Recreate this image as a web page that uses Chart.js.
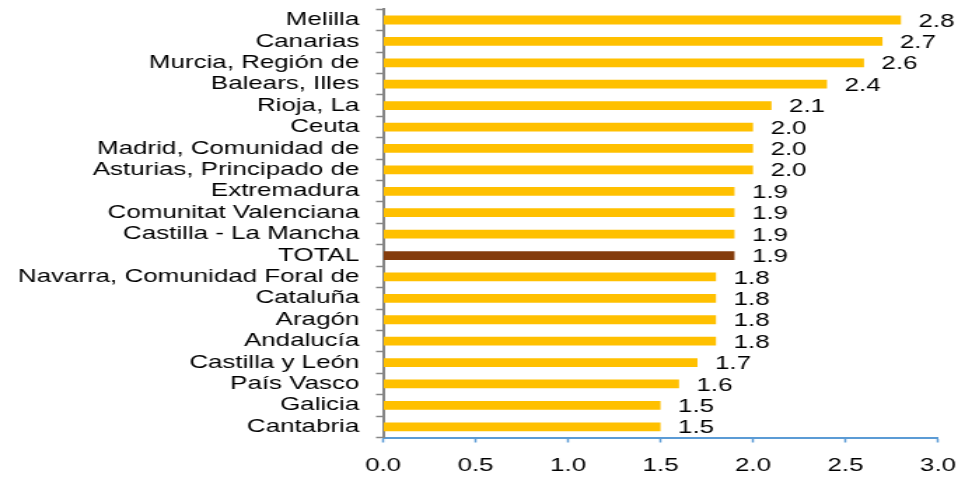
<!DOCTYPE html>
<html>
<head>
<meta charset="utf-8">
<script src="https://cdn.jsdelivr.net/npm/chart.js@4"></script>
<style>
  html, body { margin: 0; padding: 0; background: #ffffff; overflow: hidden; }
  #frame { width: 958px; height: 480px; overflow: hidden; }
  /* the chart is laid out narrow and widened, giving the broad lettering */
  #wrap { position: relative; width: 684px; height: 480px; transform: scaleX(1.4006); transform-origin: 0 0; }
</style>
</head>
<body>
<div id="frame"><div id="wrap"><canvas id="chart"></canvas></div></div>
<script>
// Regions, ordered from highest to lowest, with the national total among them
const regions = [
  'Melilla', 'Canarias', 'Murcia, Región de', 'Balears, Illes', 'Rioja, La',
  'Ceuta', 'Madrid, Comunidad de', 'Asturias, Principado de', 'Extremadura',
  'Comunitat Valenciana', 'Castilla - La Mancha', 'TOTAL',
  'Navarra, Comunidad Foral de', 'Cataluña', 'Aragón', 'Andalucía',
  'Castilla y León', 'País Vasco', 'Galicia', 'Cantabria'
];
const values = [
  2.8, 2.7, 2.6, 2.4, 2.1,
  2.0, 2.0, 2.0, 1.9,
  1.9, 1.9, 1.9,
  1.8, 1.8, 1.8, 1.8,
  1.7, 1.6, 1.5, 1.5
];
const axisTicks = [0.0, 0.5, 1.0, 1.5, 2.0, 2.5, 3.0];

const GOLD = '#FFC000';
const BROWN = '#843C0C';
const FONT = { family: '"Liberation Sans", Arial, sans-serif', size: 18.5 };

// value printed just past the end of each bar
const valueLabels = {
  id: 'valueLabels',
  afterDatasetsDraw(chart) {
    const ctx = chart.ctx;
    const meta = chart.getDatasetMeta(0);
    ctx.save();
    ctx.font = `${FONT.size}px ${FONT.family}`;
    ctx.fillStyle = '#000000';
    ctx.textAlign = 'left';
    ctx.textBaseline = 'middle';
    meta.data.forEach((bar, i) => {
      ctx.fillText(values[i].toFixed(1), bar.x + 12.5, bar.y + 1.5);
    });
    ctx.restore();
  }
};

new Chart(document.getElementById('chart'), {
  type: 'bar',
  data: {
    labels: regions,
    datasets: [{
      data: values,
      backgroundColor: regions.map(r => r === 'TOTAL' ? BROWN : GOLD),
      borderWidth: 0,
      barPercentage: 0.41,
      categoryPercentage: 1.0
    }]
  },
  options: {
    indexAxis: 'y',
    responsive: true,
    maintainAspectRatio: false,
    animation: false,
    devicePixelRatio: 1,
    layout: { padding: { left: 0, right: 14.3, top: 9.3, bottom: 4 } },
    plugins: {
      legend: { display: false },
      tooltip: { enabled: false }
    },
    scales: {
      x: {
        type: 'linear',
        min: 0,
        max: 3,
        afterBuildTicks(scale) { scale.ticks = axisTicks.map(v => ({ value: v })); },
        ticks: {
          color: '#000000',
          font: FONT,
          padding: 12.5,
          maxRotation: 0,
          callback: v => Number(v).toFixed(1)
        },
        grid: {
          drawOnChartArea: false,
          drawTicks: true,
          tickLength: 5,
          tickColor: '#5B9BD5',
          tickWidth: 1.5,
          color: '#5B9BD5'
        },
        border: { display: true, color: '#5B9BD5', width: 2 },
        afterFit(scale) {
          scale.height = 480 - 4 - 437.5;
          scale.paddingLeft = 0;
          scale.paddingRight = 0;
        }
      },
      y: {
        type: 'category',
        ticks: {
          color: '#000000',
          font: FONT,
          padding: 12,
          autoSkip: false
        },
        grid: {
          offset: true,
          drawOnChartArea: false,
          drawTicks: true,
          tickLength: 5,
          tickColor: '#868686',
          tickWidth: 1.5,
          color: '#868686'
        },
        border: { display: true, color: '#868686', width: 2 },
        afterFit(scale) {
          scale.width = 273.5;
          scale.paddingTop = 0;
          scale.paddingBottom = 0;
        }
      }
    }
  },
  plugins: [valueLabels]
});
</script>
</body>
</html>
